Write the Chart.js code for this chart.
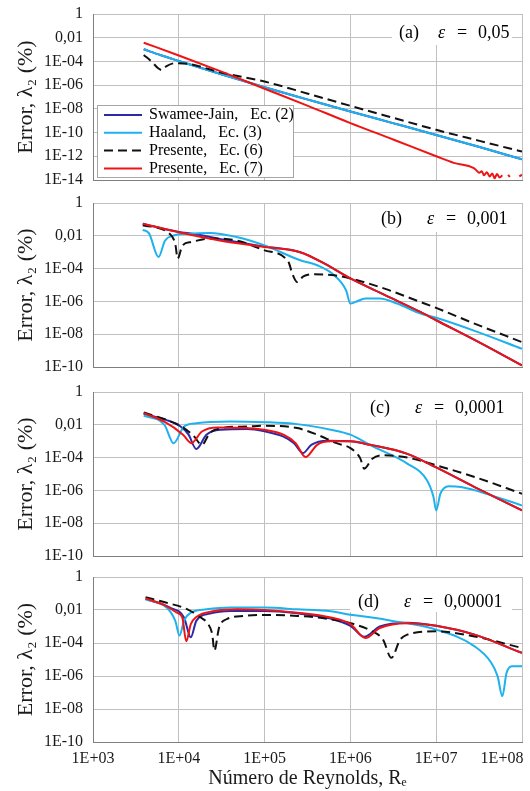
<!DOCTYPE html>
<html>
<head>
<meta charset="utf-8">
<script src="https://cdn.jsdelivr.net/npm/chart.js@4/dist/chart.umd.min.js"></script>
<style>
  body { margin: 0; background: #fff; width: 530px; height: 791px; overflow: hidden; position: relative; }
  .panel { position: absolute; left: 0; width: 530px; }
  canvas { display: block; }
</style>
</head>
<body>
<div class="panel" style="top:2px"><canvas id="chartA" width="530" height="190"></canvas></div>
<div class="panel" style="top:191px"><canvas id="chartB" width="530" height="188"></canvas></div>
<div class="panel" style="top:380px"><canvas id="chartC" width="530" height="188"></canvas></div>
<div class="panel" style="top:565px"><canvas id="chartD" width="530" height="226"></canvas></div>
<script>
// axes
const xTicks = [1e3, 1e4, 1e5, 1e6, 1e7, 1e8];
const xTickLabels = ['1E+03', '1E+04', '1E+05', '1E+06', '1E+07', '1E+08'];
const yTicksA = [1, 1e-2, 1e-4, 1e-6, 1e-8, 1e-10, 1e-12, 1e-14];
const yTickLabelsA = ['1', '0,01', '1E-04', '1E-06', '1E-08', '1E-10', '1E-12', '1E-14'];
const yTicks = [1, 1e-2, 1e-4, 1e-6, 1e-8, 1e-10];
const yTickLabels = ['1', '0,01', '1E-04', '1E-06', '1E-08', '1E-10'];

const seriesLabels = ['Swamee-Jain,   Ec. (2)', 'Haaland,   Ec. (3)', 'Presente,   Ec. (6)', 'Presente,   Ec. (7)'];
const panelTags = ['(a)', '(b)', '(c)', '(d)'];
const epsValues = ['0,05', '0,001', '0,0001', '0,00001'];

// (a) eps = 0,05
const aHaalandRe = [3.9e3, 6.3e3, 1e4, 3.2e4, 1e5, 3.2e5, 1e6, 3.2e6, 1e7, 3.2e7, 1e8];
const aHaalandErr = [1.05e-3, 3.2e-4, 1.1e-4, 7.9e-6, 6.6e-7, 6e-8, 5.9e-9, 6e-10, 6.3e-11, 6e-12, 5.6e-13];
const aSwameeRe = [3.9e3, 6.3e3, 1e4, 3.2e4, 1e5, 3.2e5, 1e6, 3.2e6, 1e7, 3.2e7, 1e8];
const aSwameeErr = [1.05e-3, 3.2e-4, 1.1e-4, 7.9e-6, 6.6e-7, 6e-8, 5.9e-9, 6e-10, 6.3e-11, 6e-12, 5.6e-13];
const aEc6Re = [3.9e3, 4.8e3, 5.8e3, 6.3e3, 7.2e3, 8.9e3, 1.26e4, 3.2e4, 1e5, 3.2e5, 1e6, 3.2e6, 1e7, 3.2e7, 1e8];
const aEc6Err = [3.5e-4, 1e-4, 2.5e-5, 1.9e-5, 4e-5, 7e-5, 6.3e-5, 1.1e-5, 2e-6, 1.9e-7, 1.8e-8, 1.7e-9, 1.7e-10, 2e-11, 2.5e-12];
const aEc7Re = [3.9e3, 1e4, 3.2e4, 1e5, 3.2e5, 1e6, 3.2e6, 1e7, 1.6e7, 2.75e7, 2.95e7, 3.16e7, 3.4e7, 3.6e7, 3.9e7, 4.2e7, 4.5e7, 4.8e7, 5.1e7, 5.5e7, 5.9e7, 6.4e7, 6.9e7, 7.2e7, 8e7, 9.3e7, 1e8];
const aEc7Err = [3.8e-3, 3.2e-4, 1.3e-5, 5e-7, 1.8e-8, 6.3e-10, 2.5e-11, 1e-12, 2.8e-13, 1e-13, 6.3e-14, 4e-14, 5.6e-14, 2.5e-14, 4.5e-14, 2e-14, 3.5e-14, 1.4e-14, 3.2e-14, 1.6e-14, 2.5e-14, null, 2.8e-14, 1.8e-14, null, 2e-14, 2.8e-14];

// (b) eps = 0,001
const bSwameeRe = [3.8e3, 9.7e3, 1.6e4, 3e4, 1e5, 2.6e5, 5e5, 1e6, 2.5e6, 6.6e6, 1e7, 2.8e7, 1e8];
const bSwameeErr = [5.5e-2, 1.8e-2, 1.25e-2, 6.3e-3, 2.2e-3, 1e-3, 2e-4, 2.5e-5, 2.5e-6, 2.2e-7, 7.1e-8, 4.5e-9, 1.26e-10];
const bHaalandRe = [3.8e3, 4.5e3, 5.8e3, 6.9e3, 8.9e3, 1.3e4, 2.3e4, 4.7e4, 1e5, 2.6e5, 4.1e5, 6.5e5, 8.9e5, 1e6, 1.15e6, 1.5e6, 2.2e6, 3.5e6, 6.6e6, 1e7, 2.8e7, 1e8];
const bHaalandErr = [2.3e-2, 1.4e-2, 5.1e-4, 5e-3, 1.07e-2, 1.35e-2, 1.5e-2, 8.5e-3, 2.6e-3, 3.2e-4, 1.6e-4, 3.9e-5, 4.8e-6, 7.4e-7, 9.3e-7, 1.5e-6, 1.5e-6, 7.4e-7, 1.8e-7, 1e-7, 1.6e-8, 1.3e-9];
const bEc6Re = [3.8e3, 7.8e3, 9.1e3, 9.7e3, 1.1e4, 1.4e4, 2.3e4, 4.7e4, 1e5, 1.9e5, 2.1e5, 2.4e5, 2.8e5, 3.7e5, 6.5e5, 1e6, 2.5e6, 6.6e6, 1e7, 2.8e7, 1e8];
const bEc6Err = [4.4e-2, 1.35e-2, 3.2e-3, 4.1e-4, 2.5e-3, 4.2e-3, 6.8e-3, 5.2e-3, 1.3e-3, 2.5e-4, 5e-5, 1.5e-5, 3.2e-5, 4.5e-5, 3.9e-5, 2.5e-5, 6e-6, 9.1e-7, 4e-7, 4.4e-8, 3.3e-9];
const bEc7Re = [3.8e3, 9.7e3, 3e4, 1e5, 2.6e5, 5e5, 1e6, 2.5e6, 6.6e6, 1e7, 2.8e7, 1e8];
const bEc7Err = [5.5e-2, 1.7e-2, 5.2e-3, 2.1e-3, 1e-3, 2e-4, 2.5e-5, 2.5e-6, 2.2e-7, 7.1e-8, 4.5e-9, 1.26e-10];

// (c) eps = 0,0001
const cSwameeRe = [3.9e3, 7.1e3, 1.05e4, 1.3e4, 1.6e4, 2.1e4, 3.1e4, 6.3e4, 1e5, 1.66e5, 2.2e5, 2.8e5, 3.5e5, 5.4e5, 1e6, 1.7e6, 4.6e6, 1e7, 2.8e7, 1e8];
const cSwameeErr = [4.7e-2, 2e-2, 7.9e-3, 2.5e-3, 3.3e-4, 2.5e-3, 5e-3, 5.6e-3, 4e-3, 1.9e-3, 7.6e-4, 1.9e-4, 6e-4, 1.07e-3, 9.8e-4, 6e-4, 1.7e-4, 2.5e-5, 1.6e-6, 6e-8];
const cHaalandRe = [3.9e3, 6.8e3, 8.7e3, 1.15e4, 1.6e4, 4e4, 1e5, 2.4e5, 5.9e5, 1e6, 1.8e6, 4.6e6, 7.8e6, 9.3e6, 1e7, 1.12e7, 1.4e7, 1.95e7, 4.4e7, 1e8];
const cHaalandErr = [3.7e-2, 1e-2, 7.6e-4, 7.9e-3, 1.26e-2, 1.6e-2, 1.45e-2, 1.1e-2, 5e-3, 2.5e-3, 5e-4, 4.3e-5, 4.1e-6, 4e-7, 6e-8, 6.3e-7, 1.8e-6, 1.6e-6, 5e-7, 1.2e-7];
const cEc6Re = [3.9e3, 7.2e3, 1.15e4, 1.5e4, 1.86e4, 2.3e4, 3.1e4, 6.3e4, 1e5, 2.4e5, 4.1e5, 6.9e5, 1e6, 1.3e6, 1.45e6, 1.8e6, 2.4e6, 4.6e6, 1e7, 2.8e7, 1e8];
const cEc6Err = [5.6e-2, 2e-2, 6.3e-3, 2e-3, 6e-4, 3.2e-3, 6.3e-3, 7.9e-3, 8.7e-3, 6.3e-3, 2.5e-3, 7.6e-4, 3.8e-4, 9.3e-5, 2.1e-5, 8.5e-5, 1.4e-4, 1e-4, 3.4e-5, 6.6e-6, 6.3e-7];
const cEc7Re = [3.9e3, 6.7e3, 1.12e4, 1.4e4, 1.86e4, 2.8e4, 6.3e4, 1e5, 1.66e5, 2.3e5, 3e5, 4.1e5, 5.9e5, 1e6, 1.7e6, 4.6e6, 1e7, 2.8e7, 1e8];
const cEc7Err = [5.1e-2, 1.6e-2, 2.5e-3, 7.6e-4, 3.9e-3, 6.9e-3, 6.3e-3, 5e-3, 2.5e-3, 7.6e-4, 1.07e-4, 6e-4, 9.8e-4, 9.8e-4, 6e-4, 1.7e-4, 2.5e-5, 1.6e-6, 6e-8];

// (d) eps = 0,00001
const dSwameeRe = [4.1e3, 7.9e3, 1.15e4, 1.38e4, 1.6e4, 2.3e4, 4e4, 1e5, 2.4e5, 5.9e5, 1e6, 1.45e6, 2.2e6, 4.6e6, 1e7, 2.8e7, 1e8];
const dSwameeErr = [4.7e-2, 1.4e-2, 3.5e-3, 2.2e-4, 2.2e-3, 6e-3, 8.7e-3, 8.7e-3, 6.3e-3, 3e-3, 1.1e-3, 2.4e-4, 1e-3, 1.7e-3, 1.1e-3, 3.2e-4, 2.5e-5];
const dHaalandRe = [4.1e3, 7.2e3, 9.1e3, 1.02e4, 1.15e4, 1.38e4, 2.1e4, 4e4, 1e5, 2.4e5, 5.9e5, 1e6, 1.7e6, 2.9e6, 1e7, 2.8e7, 4.4e7, 5.2e7, 5.9e7, 6.6e7, 7.6e7, 1e8];
const dHaalandErr = [4.4e-2, 1.4e-2, 2.2e-3, 2.8e-4, 2.2e-3, 6.9e-3, 1.1e-2, 1.4e-2, 1.4e-2, 1.1e-2, 8.3e-3, 5.2e-3, 3.6e-3, 2.3e-3, 6.5e-4, 6.3e-5, 6.2e-6, 9.5e-7, 5.9e-8, 1.5e-6, 3.9e-6, 3.9e-6];
const dEc6Re = [4.1e3, 7.2e3, 1.26e4, 1.8e4, 2.2e4, 2.45e4, 2.6e4, 2.95e4, 3.6e4, 5.8e4, 1e5, 2.4e5, 5.9e5, 1e6, 1.8e6, 2.4e6, 3e6, 3.8e6, 4.6e6, 1e7, 2.8e7, 1e8];
const dEc6Err = [6e-2, 2.75e-2, 1.1e-2, 3.5e-3, 1.4e-3, 3.5e-4, 3.5e-5, 8.7e-4, 2.75e-3, 4.4e-3, 5e-3, 4.4e-3, 2.75e-3, 1.6e-3, 5.1e-4, 1.6e-4, 1.26e-5, 1.6e-4, 3.2e-4, 5.1e-4, 2.5e-4, 5e-5];
const dEc7Re = [4.1e3, 6.8e3, 9.5e3, 1.1e4, 1.22e4, 1.38e4, 1.6e4, 2.6e4, 4.8e4, 1e5, 2.4e5, 5.9e5, 1e6, 1.5e6, 2.2e6, 4.6e6, 1e7, 2.8e7, 1e8];
const dEc7Err = [5e-2, 2e-2, 6.9e-3, 3.5e-3, 1.26e-4, 1.4e-3, 3.8e-3, 8.7e-3, 1.1e-2, 1e-2, 6.9e-3, 3.5e-3, 1.4e-3, 2e-4, 8.1e-4, 1.6e-3, 1.1e-3, 3.2e-4, 2.5e-5];

Chart.defaults.font.family = '"Liberation Serif", "Times New Roman", serif';
Chart.defaults.color = '#1a1a1a';

const seriesStyle = [
  { borderColor: '#2a2aa8', borderDash: [], order: 4 },
  { borderColor: '#1db1ee', borderDash: [], order: 3 },
  { borderColor: '#111111', borderDash: [9, 5], order: 2 },
  { borderColor: '#ee1414', borderDash: [], order: 1 }
];

function pts(re, err) {
  return re.map((x, i) => ({ x: x, y: err[i] }));
}

// text box "(a)  e = 0,05" in the upper right of each panel
const panelLabel = {
  id: 'panelLabel',
  afterDraw(chart, args, o) {
    const { ctx, chartArea: ca } = chart;
    ctx.save();
    ctx.fillStyle = '#fff';
    ctx.fillRect(o.boxLeft, ca.top + 1, ca.right - 10 - o.boxLeft, o.boxBottom - 1);
    ctx.fillStyle = '#000';
    ctx.textBaseline = 'middle';
    ctx.textAlign = 'left';
    const y = ca.top + o.textY;
    ctx.font = '18px "Liberation Serif"';
    ctx.fillText(o.tag, o.tagX, y);
    ctx.font = 'italic 18px "Liberation Serif"';
    ctx.fillText('ε', o.epsX, y);
    ctx.font = '18px "Liberation Serif"';
    ctx.fillText('=', o.epsX + 19, y);
    ctx.fillText(o.eps, o.epsX + 40, y);
    ctx.restore();
  }
};

// legend with a border, only in panel (a)
const boxLegend = {
  id: 'boxLegend',
  afterDraw(chart, args, o) {
    if (!o.show) return;
    const ctx = chart.ctx;
    ctx.save();
    ctx.fillStyle = '#fff';
    ctx.fillRect(o.x, o.y, o.w, o.h);
    ctx.strokeStyle = '#a6a6a6';
    ctx.lineWidth = 1;
    ctx.strokeRect(o.x + 0.5, o.y + 0.5, o.w, o.h);
    ctx.font = '16px "Liberation Serif"';
    ctx.textBaseline = 'middle';
    ctx.fillStyle = '#000';
    chart.data.datasets.forEach((ds, i) => {
      const yy = o.y + 10 + i * 17.8;
      ctx.strokeStyle = ds.borderColor;
      ctx.lineWidth = 2;
      ctx.setLineDash(ds.borderDash);
      ctx.beginPath();
      ctx.moveTo(o.x + 7, yy);
      ctx.lineTo(o.x + 45, yy);
      ctx.stroke();
      ctx.setLineDash([]);
      ctx.fillText(ds.label, o.x + 52, yy);
    });
    ctx.restore();
  }
};

function makePanel(id, series, ticks, tickLabels, idx, label, bottom) {
  const datasets = series.map((s, i) => Object.assign({
    label: seriesLabels[i],
    data: pts(s[0], s[1]),
    borderWidth: 2,
    pointRadius: 0,
    fill: false,
    spanGaps: false,
    cubicInterpolationMode: 'monotone'
  }, seriesStyle[i]));

  return new Chart(document.getElementById(id), {
    type: 'line',
    data: { datasets },
    plugins: [panelLabel, boxLegend],
    options: {
      responsive: false,
      animation: false,
      layout: { padding: { top: 12, right: 8, left: 0, bottom: bottom ? 0 : 12 } },
      plugins: {
        legend: { display: false },
        tooltip: { enabled: false },
        panelLabel: Object.assign({ tag: panelTags[idx], eps: epsValues[idx] }, label),
        boxLegend: idx === 0 ? { show: true, x: 97, y: 103, w: 196, h: 72 } : { show: false }
      },
      scales: {
        x: {
          type: 'logarithmic',
          min: 1e3,
          max: 1e8,
          afterBuildTicks: s => { s.ticks = xTicks.map(v => ({ value: v })); },
          afterFit: s => { s.height = bottom ? 49 : 0; s.paddingLeft = 0; s.paddingRight = 0; },
          grid: { color: '#c0c0c0', drawTicks: false },
          border: { color: '#7f7f7f' },
          ticks: {
            display: bottom,
            autoSkip: false,
            maxRotation: 0,
            padding: 7,
            font: { size: 16 },
            callback: (v, i) => i === xTicks.length - 1 ? xTickLabels[i] + '          ' : xTickLabels[i]
          },
          title: {
            display: bottom,
            text: 'Número de Reynolds, Rₑ',
            font: { size: 20 },
            color: '#1a1a1a',
            padding: { top: 0, bottom: 0 }
          }
        },
        y: {
          type: 'logarithmic',
          min: ticks[ticks.length - 1],
          max: 1,
          afterBuildTicks: s => { s.ticks = ticks.map(v => ({ value: v })); },
          afterFit: s => { s.width = 93; s.paddingTop = 0; s.paddingBottom = 0; },
          grid: { color: '#c0c0c0', drawTicks: false },
          border: { color: '#7f7f7f' },
          ticks: {
            autoSkip: false,
            padding: 10,
            font: { size: 16 },
            callback: (v, i) => tickLabels[i]
          },
          title: {
            display: true,
            text: 'Error, λ₂ (%)',
            font: { size: 22 },
            color: '#1a1a1a',
            padding: { top: 13, bottom: 0 }
          }
        }
      }
    }
  });
}

makePanel('chartA',
  [[aSwameeRe, aSwameeErr], [aHaalandRe, aHaalandErr], [aEc6Re, aEc6Err], [aEc7Re, aEc7Err]],
  yTicksA, yTickLabelsA, 0,
  { boxLeft: 392, boxBottom: 31, textY: 19, tagX: 399, epsX: 438 }, false);

makePanel('chartB',
  [[bSwameeRe, bSwameeErr], [bHaalandRe, bHaalandErr], [bEc6Re, bEc6Err], [bEc7Re, bEc7Err]],
  yTicks, yTickLabels, 1,
  { boxLeft: 373, boxBottom: 29, textY: 16, tagX: 381, epsX: 427 }, false);

makePanel('chartC',
  [[cSwameeRe, cSwameeErr], [cHaalandRe, cHaalandErr], [cEc6Re, cEc6Err], [cEc7Re, cEc7Err]],
  yTicks, yTickLabels, 2,
  { boxLeft: 362, boxBottom: 28, textY: 16, tagX: 370, epsX: 415 }, false);

makePanel('chartD',
  [[dSwameeRe, dSwameeErr], [dHaalandRe, dHaalandErr], [dEc6Re, dEc6Err], [dEc7Re, dEc7Err]],
  yTicks, yTickLabels, 3,
  { boxLeft: 350, boxBottom: 35, textY: 25, tagX: 358, epsX: 404 }, true);
</script>
</body>
</html>
